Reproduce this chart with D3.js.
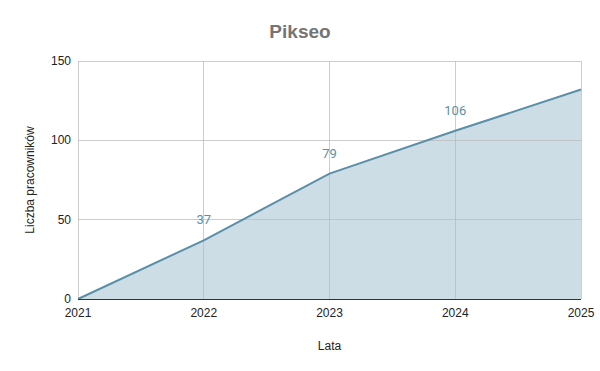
<!DOCTYPE html>
<html>
<head>
<meta charset="utf-8">
<script src="https://cdn.jsdelivr.net/npm/d3@7"></script>
<style>
  body { margin: 0; background: #fff; }
  svg text { font-family: "Liberation Sans", Arial, sans-serif; }
</style>
</head>
<body>
<svg id="chart" width="600" height="371"></svg>
<script>
// data
var years = [2021, 2022, 2023, 2024, 2025];
var employees = [0, 37, 79, 106, 132];
var labelled = [false, true, true, true, false];
var yTicks = [0, 50, 100, 150];

var svg = d3.select("#chart"),
    width = +svg.attr("width"),
    height = +svg.attr("height");

var margin = {top: 61, right: 19, bottom: 72, left: 78};
var plotW = width - margin.left - margin.right,
    plotH = height - margin.top - margin.bottom;

var x = d3.scaleLinear().domain([2021, 2025]).range([margin.left, margin.left + plotW]);
var y = d3.scaleLinear().domain([0, 150]).range([margin.top + plotH, margin.top]);

var data = years.map(function (yr, i) {
    return {year: yr, value: employees[i], label: labelled[i]};
});

// area + line
var area = d3.area()
    .x(function (d) { return x(d.year); })
    .y0(y(0))
    .y1(function (d) { return y(d.value); });

svg.append("path")
    .datum(data)
    .attr("d", area)
    .style("fill", "#5b8fa8")
    .style("fill-opacity", 0.3);

// grid (drawn over the fill)
svg.append("g").selectAll("line").data(yTicks.filter(function (t) { return t > 0; }))
    .enter().append("line")
    .attr("x1", margin.left).attr("x2", margin.left + plotW)
    .attr("y1", function (d) { return y(d); })
    .attr("y2", function (d) { return y(d); })
    .style("stroke", "#b8b8b8")
    .style("stroke-opacity", 0.7)
    .style("stroke-width", 1)
    .attr("shape-rendering", "crispEdges");

svg.append("g").selectAll("line").data(years)
    .enter().append("line")
    .attr("x1", function (d) { return x(d); })
    .attr("x2", function (d) { return x(d); })
    .attr("y1", margin.top).attr("y2", margin.top + plotH)
    .style("stroke", "#b8b8b8")
    .style("stroke-opacity", 0.7)
    .style("stroke-width", 1)
    .attr("shape-rendering", "crispEdges");

var line = d3.line()
    .x(function (d) { return x(d.year); })
    .y(function (d) { return y(d.value); });

svg.append("path")
    .datum(data)
    .attr("d", line)
    .style("fill", "none")
    .style("stroke", "#5b8fa8")
    .style("stroke-width", 2);

// baseline
svg.append("line")
    .attr("x1", margin.left).attr("x2", margin.left + plotW)
    .attr("y1", y(0)).attr("y2", y(0))
    .style("stroke", "#333")
    .style("stroke-width", 1)
    .attr("shape-rendering", "crispEdges");

// value labels
svg.append("g").selectAll("text").data(data.filter(function (d) { return d.label; }))
    .enter().append("text")
    .attr("x", function (d) { return x(d.year); })
    .attr("y", function (d) { return y(d.value) - 16; })
    .attr("text-anchor", "middle")
    .style("font-family", "Roboto, sans-serif")
    .style("font-size", "13px")
    .style("fill", "#5b8fa8")
    .text(function (d) { return d.value; });

// axes labels
svg.append("g").selectAll("text").data(yTicks)
    .enter().append("text")
    .attr("x", margin.left - 7)
    .attr("y", function (d) { return y(d) + 4; })
    .attr("text-anchor", "end")
    .style("font-size", "12px")
    .style("fill", "#222")
    .text(function (d) { return d; });

svg.append("g").selectAll("text").data(years)
    .enter().append("text")
    .attr("x", function (d) { return x(d); })
    .attr("y", y(0) + 18)
    .attr("text-anchor", "middle")
    .style("font-size", "12px")
    .style("fill", "#222")
    .text(function (d) { return d; });

svg.append("text")
    .attr("x", margin.left + plotW / 2)
    .attr("y", 350)
    .attr("text-anchor", "middle")
    .style("font-size", "12px")
    .style("fill", "#222")
    .text("Lata");

svg.append("text")
    .attr("transform", "translate(34," + (margin.top + plotH / 2) + ") rotate(-90)")
    .attr("text-anchor", "middle")
    .style("font-size", "12px")
    .style("fill", "#222")
    .text("Liczba pracowników");

svg.append("text")
    .attr("x", 300)
    .attr("y", 38)
    .attr("text-anchor", "middle")
    .style("font-size", "19px")
    .style("font-weight", "bold")
    .style("fill", "#757575")
    .text("Pikseo");
</script>
</body>
</html>
